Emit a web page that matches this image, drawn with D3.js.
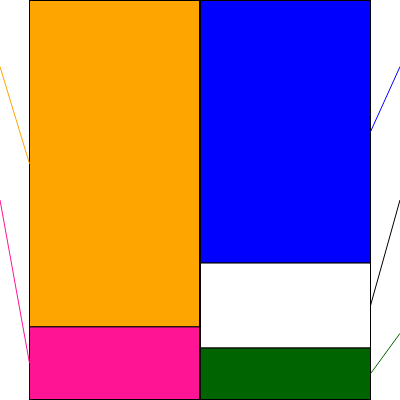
<!DOCTYPE html>
<html>
<head>
<meta charset="utf-8">
<script src="https://cdn.jsdelivr.net/npm/d3@7"></script>
<style>
  body { margin: 0; background: #fff; }
  svg { display: block; }
</style>
</head>
<body>
<svg id="chart"></svg>
<script>
// two stacked columns, shares in percent
const sides = ['left', 'right'];
const leftParts = ['assetA', 'assetB'];
const leftValues = [81.8, 18.2];
const leftColors = ['#ffa500', '#ff1493'];
const rightParts = ['liabA', 'liabB', 'equity'];
const rightValues = [65.8, 21.3, 12.9];
const rightColors = ['#0000ff', '#ffffff', '#006400'];

const width = 400;
const height = 400;

const svg = d3.select('#chart').attr('width', width).attr('height', height);

const x = d3.scaleBand()
  .domain(sides)
  .range([29, 371]);

const y = d3.scaleLinear()
  .domain([0, 100])
  .range([0.5, 399.5]);

// labels (off screen) sit at evenly spaced rows
const labelY = d3.scaleLinear().domain([0, 3]).range([0, height]);

function stack(parts, values, colors) {
  let acc = 0;
  return parts.map((p, i) => {
    const d = { name: p, y0: acc, y1: acc + values[i], color: colors[i], i: i };
    acc += values[i];
    return d;
  });
}

const columns = [
  { side: 'left', segs: stack(leftParts, leftValues, leftColors) },
  { side: 'right', segs: stack(rightParts, rightValues, rightColors) }
];

columns.forEach(col => {
  const g = svg.append('g');

  g.selectAll('rect')
    .data(col.segs)
    .enter()
    .append('rect')
    .attr('x', x(col.side) + 0.5)
    .attr('y', d => y(d.y0))
    .attr('width', x.bandwidth() - 1)
    .attr('height', d => y(d.y1) - y(d.y0))
    .attr('fill', d => d.color)
    .attr('stroke', '#000')
    .attr('stroke-width', 1);

  const edge = col.side === 'left' ? x(col.side) + 0.5 : x(col.side) + x.bandwidth() - 0.5;
  const outer = col.side === 'left' ? 0 : width;

  g.selectAll('line')
    .data(col.segs)
    .enter()
    .append('line')
    .attr('x1', outer)
    .attr('y1', d => labelY(d.i + 0.5))
    .attr('x2', edge)
    .attr('y2', d => y((d.y0 + d.y1) / 2))
    .attr('stroke', d => d.color === '#ffffff' ? '#000' : d.color)
    .attr('stroke-width', 1);
});
</script>
</body>
</html>
